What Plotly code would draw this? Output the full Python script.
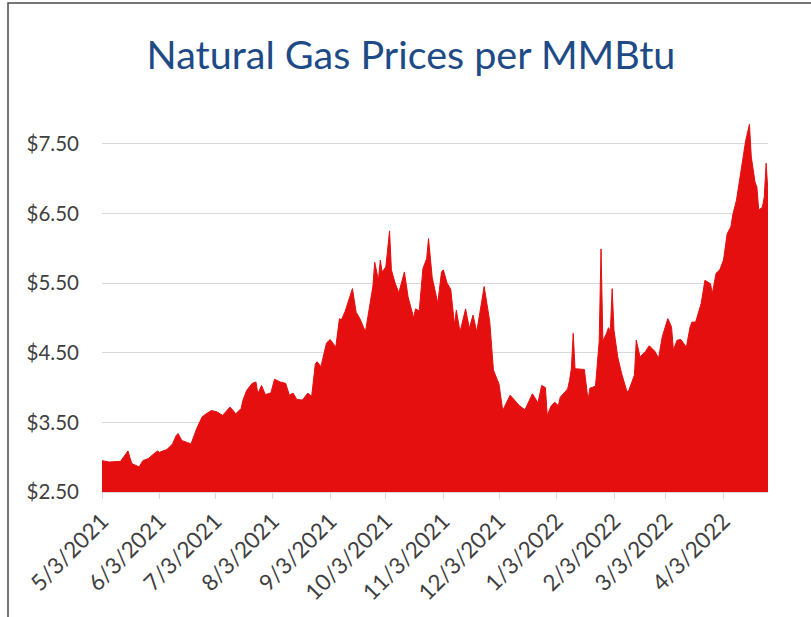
import plotly.graph_objects as go

# ---- data ----
dates = [
    "2021-05-03", "2021-05-07", "2021-05-13", "2021-05-17", "2021-05-19", "2021-05-23",
    "2021-05-25", "2021-05-28", "2021-05-31", "2021-06-02", "2021-06-03", "2021-06-07",
    "2021-06-10", "2021-06-12", "2021-06-13", "2021-06-15", "2021-06-18", "2021-06-20",
    "2021-06-23", "2021-06-26", "2021-06-28", "2021-07-01", "2021-07-04", "2021-07-07",
    "2021-07-09", "2021-07-11", "2021-07-13", "2021-07-14", "2021-07-17", "2021-07-18",
    "2021-07-20", "2021-07-23", "2021-07-25", "2021-07-26", "2021-07-28", "2021-07-30",
    "2021-08-02", "2021-08-04", "2021-08-07", "2021-08-10", "2021-08-12", "2021-08-14",
    "2021-08-16", "2021-08-19", "2021-08-22", "2021-08-24", "2021-08-26", "2021-08-27",
    "2021-08-29", "2021-09-01", "2021-09-03", "2021-09-06", "2021-09-08", "2021-09-09",
    "2021-09-11", "2021-09-13", "2021-09-15", "2021-09-17", "2021-09-19", "2021-09-22",
    "2021-09-24", "2021-09-26", "2021-09-27", "2021-09-29", "2021-09-30", "2021-10-01",
    "2021-10-03", "2021-10-05", "2021-10-06", "2021-10-08", "2021-10-10", "2021-10-13",
    "2021-10-15", "2021-10-18", "2021-10-19", "2021-10-21", "2021-10-23", "2021-10-25",
    "2021-10-26", "2021-10-28", "2021-10-31", "2021-11-02", "2021-11-03", "2021-11-05",
    "2021-11-07", "2021-11-09", "2021-11-10", "2021-11-12", "2021-11-15", "2021-11-17",
    "2021-11-19", "2021-11-21", "2021-11-25", "2021-11-28", "2021-11-30", "2021-12-02",
    "2021-12-03", "2021-12-05", "2021-12-09", "2021-12-13", "2021-12-14", "2021-12-17",
    "2021-12-21", "2021-12-24", "2021-12-26", "2021-12-28", "2021-12-29", "2021-12-31",
    "2022-01-02", "2022-01-04", "2022-01-05", "2022-01-09", "2022-01-10", "2022-01-11",
    "2022-01-12", "2022-01-13", "2022-01-15", "2022-01-18", "2022-01-20", "2022-01-21",
    "2022-01-24", "2022-01-26", "2022-01-27", "2022-01-28", "2022-01-30", "2022-01-31",
    "2022-02-01", "2022-02-02", "2022-02-03", "2022-02-04", "2022-02-05", "2022-02-07",
    "2022-02-09", "2022-02-10", "2022-02-11", "2022-02-14", "2022-02-15", "2022-02-17",
    "2022-02-20", "2022-02-22", "2022-02-25", "2022-02-27", "2022-03-01", "2022-03-04",
    "2022-03-06", "2022-03-07", "2022-03-09", "2022-03-11", "2022-03-14", "2022-03-16",
    "2022-03-17", "2022-03-19", "2022-03-22", "2022-03-24", "2022-03-27", "2022-03-28",
    "2022-03-30", "2022-04-01", "2022-04-03", "2022-04-05", "2022-04-07", "2022-04-08",
    "2022-04-10", "2022-04-13", "2022-04-15", "2022-04-17", "2022-04-18", "2022-04-20",
    "2022-04-21", "2022-04-22", "2022-04-24", "2022-04-25", "2022-04-26", "2022-04-27",
]
prices = [
    2.95, 2.93, 2.94, 3.09, 2.91, 2.86,
    2.95, 2.98, 3.05, 3.09, 3.07, 3.11,
    3.19, 3.31, 3.34, 3.24, 3.21, 3.19,
    3.41, 3.58, 3.62, 3.67, 3.65, 3.60,
    3.66, 3.72, 3.66, 3.62, 3.70, 3.82,
    3.96, 4.06, 4.08, 3.91, 4.03, 3.90,
    3.92, 4.12, 4.08, 4.06, 3.89, 3.92,
    3.83, 3.82, 3.92, 3.87, 4.34, 4.37,
    4.30, 4.64, 4.69, 4.58, 4.99, 4.97,
    5.09, 5.25, 5.42, 5.08, 4.99, 4.80,
    5.16, 5.45, 5.80, 5.54, 5.83, 5.66,
    5.73, 6.25, 5.69, 5.50, 5.36, 5.66,
    5.30, 5.00, 5.13, 5.10, 5.71, 5.85,
    6.14, 5.58, 5.21, 5.66, 5.69, 5.50,
    5.41, 4.90, 5.11, 4.80, 5.13, 4.85,
    5.04, 4.80, 5.45, 4.95, 4.25, 4.10,
    4.05, 3.67, 3.89, 3.77, 3.74, 3.68,
    3.91, 3.78, 4.03, 4.00, 3.60, 3.73,
    3.79, 3.74, 3.86, 3.98, 4.10, 4.27,
    4.78, 4.27, 4.27, 4.26, 3.82, 3.99,
    4.02, 4.66, 5.99, 4.67, 4.78, 4.86,
    4.80, 5.42, 4.82, 4.61, 4.44, 4.21,
    4.05, 3.94, 3.96, 4.18, 4.68, 4.44,
    4.52, 4.60, 4.52, 4.42, 4.73, 4.99,
    4.87, 4.54, 4.68, 4.69, 4.58, 4.87,
    4.94, 4.94, 5.21, 5.54, 5.49, 5.35,
    5.64, 5.69, 5.83, 6.21, 6.31, 6.48,
    6.69, 7.22, 7.55, 7.78, 7.31, 6.95,
    6.88, 6.55, 6.59, 6.74, 7.22, 6.80,
]
tick_dates = ["2021-05-03", "2021-06-03", "2021-07-03", "2021-08-03", "2021-09-03",
              "2021-10-03", "2021-11-03", "2021-12-03", "2022-01-03", "2022-02-03",
              "2022-03-03", "2022-04-03"]
tick_labels = ["5/3/2021", "6/3/2021", "7/3/2021", "8/3/2021", "9/3/2021", "10/3/2021",
               "11/3/2021", "12/3/2021", "1/3/2022", "2/3/2022", "3/3/2022", "4/3/2022"]
y_ticks = [2.5, 3.5, 4.5, 5.5, 6.5, 7.5]
y_tick_labels = ["$2.50", "$3.50", "$4.50", "$5.50", "$6.50", "$7.50"]
title_text = "Natural Gas Prices per MMBtu"

# ---- layout geometry ----
W, H = 811, 617
ML, MR, MT, MB = 102, 43, 109, 125
PW, PH = W - ML - MR, H - MT - MB


def px_x(p):
    return (p - ML) / PW


def px_y(p):
    return 1 - (p - MT) / PH


RED = "#E50F0F"
FONT = "Lato, Calibri, sans-serif"

fig = go.Figure()
fig.add_trace(go.Scatter(
    x=dates, y=prices, mode="lines",
    line=dict(color=RED, width=1),
    fill="tozeroy", fillcolor=RED,
    hoverinfo="x+y", showlegend=False,
))

fig.update_layout(
    width=W, height=H,
    margin=dict(l=ML, r=MR, t=MT, b=MB, pad=0, autoexpand=False),
    paper_bgcolor="white", plot_bgcolor="white",
    font=dict(family=FONT, color="#3f3f3f"),
    title=dict(
        text=title_text, x=411 / W, xanchor="center", xref="container",
        y=1 - 55 / H, yanchor="middle", yref="container",
        font=dict(size=39.5, color="#1E4A86", family=FONT),
    ),
    xaxis=dict(
        type="date", range=[dates[0], dates[-1]],
        tickmode="array", tickvals=tick_dates, ticktext=tick_labels,
        tickangle=-45, tickfont=dict(size=22.5, color="#3f3f3f"),
        showgrid=False, showline=True, linecolor="#d9d9d9", linewidth=1,
        ticks="outside", ticklen=6, tickcolor="#d9d9d9", zeroline=False,
        automargin=False,
    ),
    yaxis=dict(
        range=[2.5, 8.0], tickmode="array", tickvals=y_ticks, ticktext=y_tick_labels,
        tickfont=dict(size=20.5, color="#3f3f3f"),
        showgrid=True, gridcolor="#d9d9d9", gridwidth=1,
        showline=False, zeroline=False, ticks="", ticklabelstandoff=22,
        automargin=False,
    ),
    shapes=[dict(
        type="rect", xref="paper", yref="paper",
        x0=px_x(8), x1=px_x(830), y0=px_y(3), y1=px_y(640),
        line=dict(color="#4a4a4a", width=1.5), fillcolor="rgba(0,0,0,0)", layer="above",
    )],
)

fig.write_html(
    "out.html",
    config={"displayModeBar": False},
    post_script="document.body.style.margin='0';document.body.style.overflow='hidden';",
)
